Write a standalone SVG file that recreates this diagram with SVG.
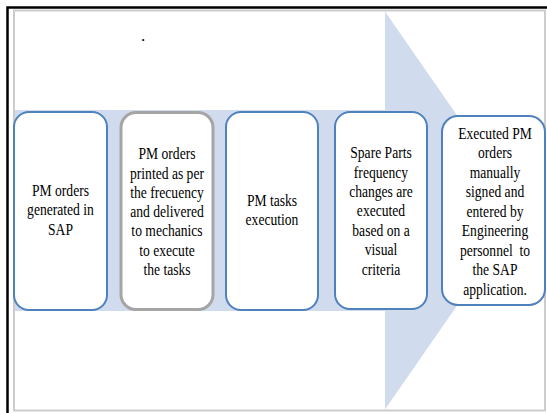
<svg xmlns="http://www.w3.org/2000/svg" width="547" height="413" viewBox="0 0 547 413">
<style>
.box{fill:#ffffff;stroke:#4f81bd;stroke-width:2}
.gbox{fill:#ffffff;stroke:#a5a5a5;stroke-width:3}
text{font-family:"Liberation Serif","Times New Roman",serif;font-size:17px;fill:#000;text-anchor:middle}
</style>
<rect width="547" height="413" fill="#ffffff"/>
<path d="M7.5 413 V7.5 H547" fill="none" stroke="#000" stroke-width="2.5"/>
<rect x="14" y="10.5" width="531" height="400" fill="none" stroke="#cccccc" stroke-width="2"/>
<g id="arrow">
<polygon points="15,110 385,110 385,11.5 523,210.5 385,409.5 385,311 15,311" fill="#d0dcee"/>
</g>
<text x="143" y="41" font-size="10" fill="#333">.</text>
<g id="connectors"></g>
<g id="n1">
<rect class="box" x="14" y="112" width="93" height="198" rx="15"/>
<g transform="translate(60.5,0) scale(0.8,1)">
<text x="0" y="196">PM orders</text>
<text x="0" y="215.5">generated in</text>
<text x="0" y="235">SAP</text>
</g>
</g>
<g id="n2">
<rect class="gbox" x="121" y="112.5" width="92" height="197" rx="15"/>
<g transform="translate(167,0) scale(0.8,1)">
<text x="0" y="159.3">PM orders</text>
<text x="0" y="178.6">printed as per</text>
<text x="0" y="197.9">the frecuency</text>
<text x="0" y="217.2">and delivered</text>
<text x="0" y="236.5">to mechanics</text>
<text x="0" y="255.8">to execute</text>
<text x="0" y="275.1">the tasks</text>
</g>
</g>
<g id="n3">
<rect class="box" x="226" y="112" width="92" height="198" rx="15"/>
<g transform="translate(272,0) scale(0.8,1)">
<text x="0" y="206">PM tasks</text>
<text x="0" y="225.5">execution</text>
</g>
</g>
<g id="n4">
<rect class="box" x="335" y="112" width="92" height="197" rx="15"/>
<g transform="translate(381,0) scale(0.8,1)">
<text x="0" y="158.3">Spare Parts</text>
<text x="0" y="177.7">frequency</text>
<text x="0" y="197.1">changes are</text>
<text x="0" y="216.5">executed</text>
<text x="0" y="235.9">based on a</text>
<text x="0" y="255.3">visual</text>
<text x="0" y="274.7">criteria</text>
</g>
</g>
<g id="n5">
<rect class="box" x="442" y="116" width="103" height="189" rx="16"/>
<g transform="translate(495,0) scale(0.8,1)">
<text x="0" y="139">Executed PM</text>
<text x="0" y="158.5">orders</text>
<text x="0" y="178">manually</text>
<text x="0" y="197.5">signed and</text>
<text x="0" y="217">entered by</text>
<text x="0" y="236.5">Engineering</text>
<text x="0" y="256" xml:space="preserve">personnel  to</text>
<text x="0" y="275.5">the SAP</text>
<text x="0" y="295">application.</text>
</g>
</g>
</svg>
